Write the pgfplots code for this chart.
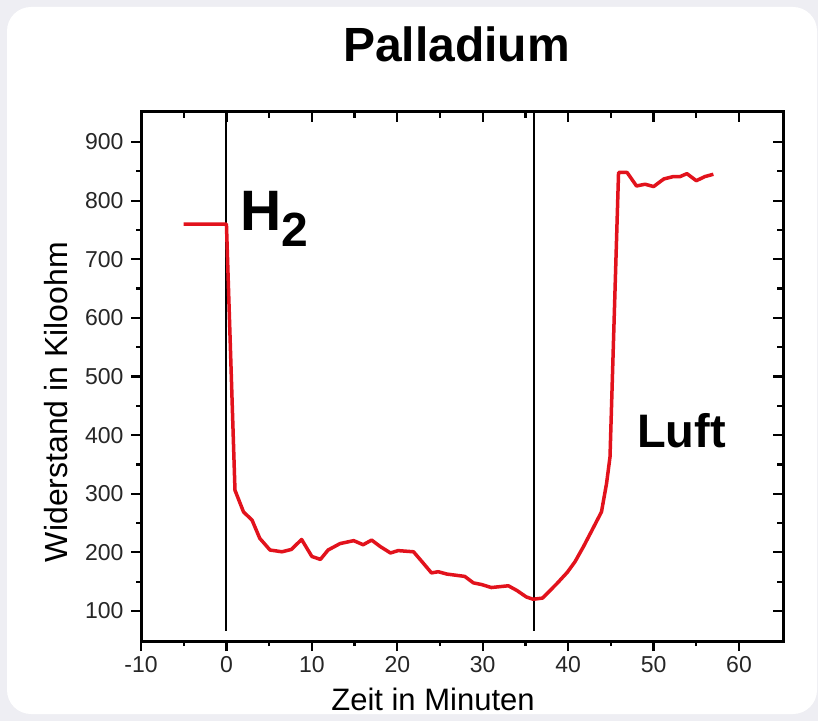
\documentclass[border=0pt]{standalone}
\usepackage{pgfplots}
\pgfplotsset{compat=1.18}
\usepackage{fontspec}
\setmainfont{Liberation Sans}
\definecolor{bg}{RGB}{238,238,243}
\definecolor{redline}{RGB}{226,18,28}
\pgfplotsset{
  commonax/.style={
    at={(141pt,80pt)}, anchor=south west, scale only axis,
    width=642pt, height=529pt,
    xmin=-10, xmax=65.15, ymin=48.8, ymax=951.2,
    xtick={-10,0,...,60}, ytick={100,200,...,900},
    minor x tick num=1, minor y tick num=1,
    every tick/.style={black, line width=2.2pt},
  }
}
\begin{document}
\begin{tikzpicture}[x=1pt,y=1pt]
\useasboundingbox (0,0) rectangle (818,721);
\fill[bg] (0,0) rectangle (818,721);
\fill[white, rounded corners=24pt] (7,7) rectangle (817,714);
\begin{axis}[commonax,
  xtick pos=left, ytick pos=left, tick align=outside,
  major tick length=10pt, minor tick length=5pt,
  axis line style={line width=3pt},
  ticklabel style={font=\fontsize{23}{23}\selectfont, text=black!85},
  yticklabel style={xshift=-4pt},
  xticklabel style={yshift=-2pt},
  /pgf/number format/assume math mode=true,
  clip=false]
\addplot[black, line width=2pt] coordinates {(0,66) (0,951.2)};
\addplot[black, line width=2pt] coordinates {(36,66) (36,951.2)};
\addplot[redline, line width=3.5pt, line join=round] coordinates {
(-5,760) (0,760) (1.0,306) (2.0,269) (3.0,255) (3.9,224) (5.1,204) (6.5,201) (7.6,205) (8.8,222)
(10.0,193) (11.0,188) (11.9,204) (13.3,215) (14.9,220) (16.0,213) (17.0,221) (18.0,210) (19.2,199)
(20.1,203) (21.9,201) (22.9,184) (24.0,165) (24.8,167) (25.8,163) (27.9,159) (28.9,148) (29.9,145)
(31.0,140) (33.0,143) (34.0,135) (35.1,124) (35.9,120) (37.0,122) (38.7,147) (39.9,166) (40.8,184)
(41.8,210) (42.8,238) (43.9,269) (44.5,318) (44.9,363) (45.9,848) (46.9,848) (48.0,825) (49.0,828)
(50.0,824) (51.2,837) (52.3,841) (53.1,841) (53.9,846) (55.0,834) (56.0,841) (57.0,845)};
\end{axis}
\begin{axis}[commonax,
  xtick pos=right, ytick pos=right, tick align=inside,
  major tick length=10pt, minor tick length=6pt,
  xticklabels={}, yticklabels={},
  axis line style={draw=none}]
\end{axis}
\node[anchor=base, inner sep=0] at (456.5,659) {\fontsize{48}{48}\selectfont\bfseries Palladium};
\node[rotate=90, anchor=base, inner sep=0] at (67,319) {\fontsize{32}{32}\selectfont Widerstand in Kiloohm};
\node[anchor=base, inner sep=0] at (433,11) {\fontsize{31}{31}\selectfont Zeit in Minuten};
\node[anchor=base west, inner sep=0] at (240,490) {\fontsize{57}{57}\selectfont\bfseries H\raisebox{-16pt}{\fontsize{48}{48}\selectfont 2}};
\node[anchor=base west, inner sep=0] at (637,274) {\fontsize{47}{47}\selectfont\bfseries Luft};
\end{tikzpicture}
\end{document}
